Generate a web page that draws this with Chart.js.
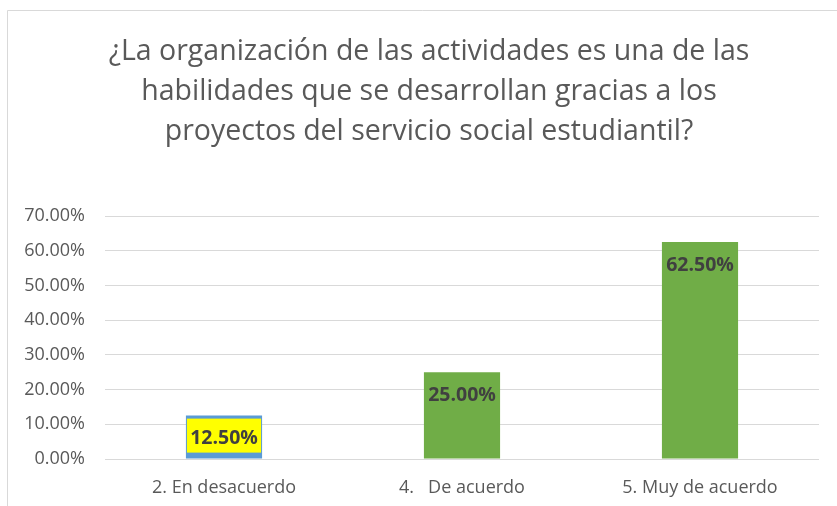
<!DOCTYPE html>
<html>
<head>
<meta charset="utf-8">
<script src="https://cdn.jsdelivr.net/npm/chart.js@4.4.1/dist/chart.umd.min.js"></script>
<style>
  html, body { margin: 0; padding: 0; background: #ffffff; }
  #wrap { position: relative; width: 837px; height: 506px; }
</style>
</head>
<body>
<div id="wrap"><canvas id="chart" width="837" height="506"></canvas></div>
<script>
// Survey responses and their share of answers
const titleLines = [
  '¿La organización de las actividades es una de las',
  'habilidades que se desarrollan gracias a los',
  'proyectos del servicio social estudiantil?'
];
const categories = ['2. En desacuerdo', '4.   De acuerdo', '5. Muy de acuerdo'];
const percentages = [12.5, 25.0, 62.5];
const barColors = ['#5b9bd5', '#70ad47', '#70ad47'];
const labelBackgrounds = ['#ffff00', null, null];
const yTicks = [0, 10, 20, 30, 40, 50, 60, 70];

const FONT = '"Open Sans", sans-serif';
const GREY = '#595959';

// Frame, title and value labels
const decorations = {
  id: 'decorations',
  beforeDraw(chart) {
    const c = chart.ctx;
    c.save();
    c.fillStyle = '#ffffff';
    c.fillRect(0, 0, chart.width, chart.height);
    c.strokeStyle = '#d9d9d9';
    c.lineWidth = 1;
    c.beginPath();
    c.moveTo(7.5, chart.height);
    c.lineTo(7.5, 10.5);
    c.lineTo(chart.width, 10.5);
    c.stroke();
    c.fillStyle = GREY;
    c.font = '28.5px ' + FONT;
    c.textAlign = 'center';
    c.textBaseline = 'middle';
    titleLines.forEach((t, i) => c.fillText(t, 429, 52 + i * 40));
    c.restore();
  },
  afterDatasetsDraw(chart) {
    const c = chart.ctx;
    const meta = chart.getDatasetMeta(0);
    c.save();
    c.font = 'bold 19.5px ' + FONT;
    c.textAlign = 'center';
    c.textBaseline = 'middle';
    meta.data.forEach((bar, i) => {
      const left = bar.x - bar.width / 2;
      const bg = labelBackgrounds[i];
      if (bg) {
        c.fillStyle = bg;
        c.fillRect(left + 1, bar.y + 3, bar.width - 2, 34);
      }
      c.fillStyle = '#404040';
      c.fillText(percentages[i].toFixed(2) + '%', bar.x, bar.y + 23);
    });
    c.restore();
  }
};

new Chart(document.getElementById('chart'), {
  type: 'bar',
  data: {
    labels: categories,
    datasets: [{
      data: percentages,
      backgroundColor: barColors,
      borderWidth: 0,
      barPercentage: 0.32,
      categoryPercentage: 1
    }]
  },
  options: {
    responsive: false,
    animation: false,
    devicePixelRatio: 1,
    layout: { padding: { top: 216, right: 18, bottom: 0, left: 0 } },
    plugins: {
      legend: { display: false },
      title: { display: false },
      tooltip: { enabled: false }
    },
    scales: {
      x: {
        grid: { display: false, drawTicks: false },
        border: { display: false },
        ticks: { color: GREY, font: { family: FONT, size: 18 }, padding: 18, maxRotation: 0 },
        afterFit(scale) { scale.height = 47; }
      },
      y: {
        min: 0,
        max: 70,
        afterBuildTicks(scale) { scale.ticks = yTicks.map(v => ({ value: v })); },
        grid: { color: '#d9d9d9', lineWidth: 1, drawTicks: false },
        border: { display: false },
        ticks: {
          color: GREY,
          font: { family: FONT, size: 18 },
          padding: 20,
          callback: v => v.toFixed(2) + '%'
        },
        afterFit(scale) { scale.width = 105; }
      }
    }
  },
  plugins: [decorations]
});
</script>
</body>
</html>
